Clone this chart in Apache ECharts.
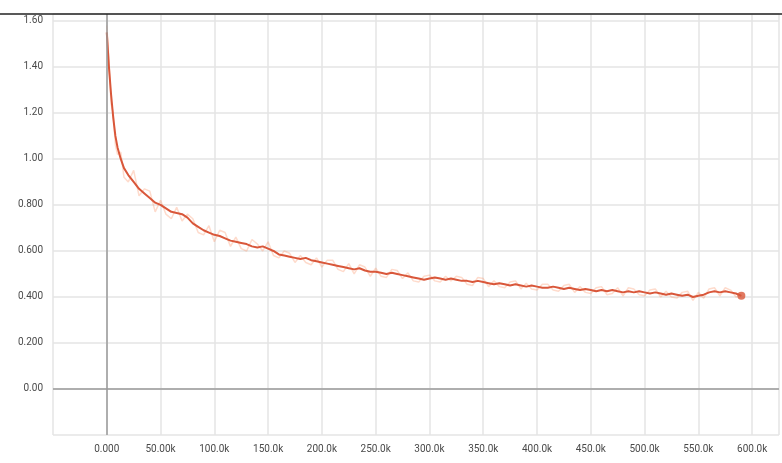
<!DOCTYPE html>
<html>
<head>
<meta charset="utf-8">
<script src="https://cdn.jsdelivr.net/npm/echarts@6/dist/echarts.min.js"></script>
<style>html,body{margin:0;padding:0;background:#fff}#c{width:782px;height:463px}</style>
</head>
<body>
<div id="c"></div>
<script>
const steps = [0,2000,4000,6000,8000,10000,13000,16000,20000,25000,30000,35000,40000,45000,50000,55000,60000,65000,70000,75000,80000,85000,90000,95000,100000,105000,110000,115000,120000,125000,130000,135000,140000,145000,150000,155000,160000,165000,170000,175000,180000,185000,190000,195000,200000,205000,210000,215000,220000,225000,230000,235000,240000,245000,250000,255000,260000,265000,270000,275000,280000,285000,290000,295000,300000,305000,310000,315000,320000,325000,330000,335000,340000,345000,350000,355000,360000,365000,370000,375000,380000,385000,390000,395000,400000,405000,410000,415000,420000,425000,430000,435000,440000,445000,450000,455000,460000,465000,470000,475000,480000,485000,490000,495000,500000,505000,510000,515000,520000,525000,530000,535000,540000,545000,550000,555000,560000,565000,570000,575000,580000,585000,590000];
const smoothValues = [1.55,1.40,1.28,1.18,1.10,1.05,1.00,0.96,0.93,0.90,0.87,0.85,0.83,0.81,0.80,0.785,0.77,0.765,0.76,0.745,0.72,0.705,0.69,0.68,0.67,0.665,0.655,0.645,0.64,0.635,0.63,0.62,0.615,0.62,0.61,0.60,0.585,0.58,0.575,0.57,0.565,0.57,0.56,0.555,0.55,0.545,0.54,0.535,0.53,0.525,0.52,0.525,0.515,0.51,0.51,0.505,0.50,0.505,0.50,0.495,0.49,0.485,0.48,0.475,0.48,0.485,0.48,0.475,0.48,0.475,0.47,0.47,0.465,0.47,0.465,0.46,0.455,0.46,0.455,0.45,0.455,0.45,0.445,0.45,0.445,0.44,0.44,0.445,0.44,0.435,0.44,0.435,0.43,0.435,0.43,0.425,0.43,0.425,0.43,0.425,0.42,0.425,0.42,0.425,0.42,0.415,0.42,0.415,0.41,0.415,0.41,0.405,0.41,0.40,0.405,0.41,0.42,0.425,0.42,0.425,0.42,0.415,0.405];
const rawValues = [1.58,1.43,1.24,1.20,1.06,1.02,1.03,0.92,0.90,0.95,0.84,0.87,0.86,0.77,0.82,0.76,0.74,0.79,0.73,0.76,0.74,0.68,0.67,0.71,0.64,0.69,0.68,0.62,0.66,0.61,0.60,0.65,0.63,0.60,0.64,0.58,0.57,0.60,0.59,0.55,0.58,0.55,0.54,0.57,0.53,0.56,0.56,0.52,0.51,0.545,0.50,0.54,0.53,0.49,0.525,0.49,0.485,0.52,0.515,0.48,0.505,0.47,0.465,0.49,0.495,0.47,0.465,0.49,0.47,0.49,0.485,0.455,0.45,0.485,0.48,0.445,0.47,0.445,0.44,0.465,0.47,0.435,0.46,0.435,0.43,0.455,0.455,0.43,0.425,0.45,0.455,0.42,0.445,0.42,0.415,0.44,0.445,0.41,0.415,0.44,0.405,0.44,0.435,0.41,0.405,0.43,0.435,0.40,0.425,0.40,0.395,0.42,0.425,0.385,0.42,0.395,0.435,0.44,0.405,0.44,0.43,0.40,0.41];
const yTickValues = [0, 0.2, 0.4, 0.6, 0.8, 1.0, 1.2, 1.4, 1.6];
const yTickLabels = ['0.00','0.200','0.400','0.600','0.800','1.00','1.20','1.40','1.60'];
const xTickValues = [0,50000,100000,150000,200000,250000,300000,350000,400000,450000,500000,550000,600000];
const xTickLabels = ['0.000','50.00k','100.0k','150.0k','200.0k','250.0k','300.0k','350.0k','400.0k','450.0k','500.0k','550.0k','600.0k'];

const smoothData = steps.map((s, i) => [s, smoothValues[i]]);
const rawData = steps.map((s, i) => [s, rawValues[i]]);
const lastPoint = smoothData[smoothData.length - 1];

function lookup(vals, labels, v) {
  for (let i = 0; i < vals.length; i++) if (Math.abs(vals[i] - v) < 1e-6 * Math.max(1, Math.abs(v))) return labels[i];
  return '';
}

const chart = echarts.init(document.getElementById('c'), null, {renderer: 'canvas'});
chart.setOption({
  animation: false,
  backgroundColor: '#fff',
  grid: {left: 53, right: 0, top: 14, bottom: 28},
  xAxis: {
    type: 'value', min: -50000, max: 625000, interval: 50000,
    axisLine: {show: false}, axisTick: {show: false},
    splitLine: {show: true, lineStyle: {color: '#e4e4e4', width: 1.5}},
    axisLabel: {color: '#4a4a4a', fontSize: 10, fontFamily: 'Roboto', margin: 9,
      formatter: v => lookup(xTickValues, xTickLabels, v)}
  },
  yAxis: {
    type: 'value', min: -0.2, max: 1.63, interval: 0.2,
    axisLine: {show: false}, axisTick: {show: false},
    splitLine: {show: true, lineStyle: {color: '#e4e4e4', width: 1.5}},
    axisLabel: {color: '#4a4a4a', fontSize: 10, fontFamily: 'Roboto', margin: 10,
      formatter: v => lookup(yTickValues, yTickLabels, v)}
  },
  graphic: [{type: 'line', shape: {x1: 0, y1: 14, x2: 782, y2: 14}, style: {stroke: '#222', lineWidth: 1.5}, z: 100}],
  series: [
    {type: 'line', data: rawData, showSymbol: false, symbol: 'none',
      lineStyle: {color: 'rgba(252,135,85,0.3)', width: 1.5}, z: 2,
      markLine: {silent: true, symbol: 'none', label: {show: false},
        lineStyle: {color: '#9a9a9a', type: 'solid', width: 1.5},
        data: [{xAxis: 0}, {yAxis: 0}]}},
    {type: 'line', data: smoothData, showSymbol: false, symbol: 'none',
      lineStyle: {color: '#d9573a', width: 2}, z: 3},
    {type: 'scatter', data: [lastPoint], symbolSize: 8, itemStyle: {color: '#d9573a'}, z: 4}
  ]
});
</script>
</body>
</html>
